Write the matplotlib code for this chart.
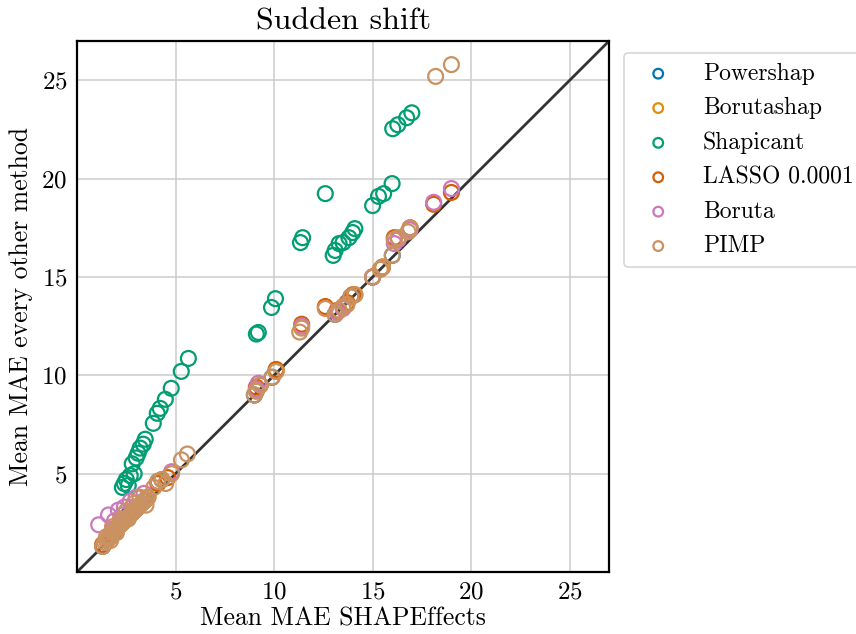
import matplotlib
matplotlib.use("Agg")
import matplotlib.pyplot as plt
import numpy as np

plt.rcParams['font.family'] = ['cmr10', 'DejaVu Serif']
plt.rcParams['mathtext.fontset'] = 'cm'
plt.rcParams['axes.unicode_minus'] = False
plt.rcParams['axes.formatter.use_mathtext'] = True

methods = ["Powershap", "Borutashap", "Shapicant", "LASSO 0.0001", "Boruta", "PIMP"]
colors = ["#0173b2", "#de8f05", "#029e73", "#d55e00", "#cc78bc", "#ca9161"]

# x: mean MAE SHAPEffects, y: mean MAE of the other method
powershap_x = [1.3, 1.7, 2.0, 2.3, 2.6, 3.0, 3.4, 4.1, 9.0, 9.9, 13.1, 13.9, 15.0, 16.0]
powershap_y = [1.3, 1.8, 2.2, 2.5, 2.9, 3.2, 3.6, 4.6, 9.0, 9.9, 13.1, 14.0, 15.0, 16.1]
borutashap_x = [1.5, 1.9, 2.2, 2.5, 2.8, 3.2, 3.6, 4.3, 9.1, 10.1, 13.3, 14.1, 15.4, 15.5]
borutashap_y = [1.6, 2.0, 2.4, 2.7, 3.0, 3.4, 3.8, 4.7, 9.2, 10.2, 13.3, 14.1, 15.4, 15.5]

shapicant_x = [2.3, 2.4, 2.5, 2.6, 2.7, 2.8, 2.9, 3.0, 3.1, 3.2, 3.36, 3.46, 3.87, 4.07,
               4.22, 4.48, 4.78, 5.29, 5.65, 9.1, 9.2, 9.87, 10.07, 11.34, 11.45, 12.6,
               13.0, 13.1, 13.3, 13.5, 13.8, 13.99, 14.1, 15.0, 15.3, 15.56, 15.99,
               16.02, 16.28, 16.73, 16.99]
shapicant_y = [4.3, 4.5, 4.7, 4.4, 4.9, 5.5, 5.0, 5.8, 6.04, 6.3, 6.5, 6.75, 7.56, 8.07,
               8.32, 8.78, 9.34, 10.2, 10.86, 12.1, 12.18, 13.45, 13.9, 16.75, 17.0, 19.24,
               16.1, 16.35, 16.7, 16.75, 17.0, 17.26, 17.46, 18.63, 19.1, 19.24, 19.75,
               22.54, 22.74, 23.1, 23.35]

lasso_x = [1.3, 1.6, 1.9, 2.2, 2.5, 2.8, 3.1, 3.4, 4.1, 4.6, 9.1, 9.3, 10.1, 11.4, 12.6,
           13.2, 13.7, 14.0, 15.0, 15.5, 16.1, 16.9, 18.1, 19.0]
lasso_y = [1.4, 1.7, 2.1, 2.4, 2.7, 3.0, 3.3, 3.6, 4.5, 4.8, 9.4, 9.5, 10.3, 12.6, 13.5,
           13.3, 13.7, 14.1, 15.0, 15.5, 17.0, 17.5, 18.7, 19.3]

boruta_x = [1.1, 1.6, 2.1, 2.4, 2.7, 3.0, 3.4, 1.9, 2.8, 2.3, 4.8, 9.1, 9.2, 11.4, 13.2,
            13.5, 15.0, 16.1, 16.3, 16.9, 18.1, 19.0]
boruta_y = [2.4, 2.9, 3.15, 3.3, 3.6, 3.8, 4.0, 2.6, 3.3, 2.9, 5.1, 9.3, 9.6, 12.5, 13.2,
            13.4, 15.0, 16.7, 16.9, 17.4, 18.8, 19.5]

pimp_x = [1.3, 1.4, 1.5, 1.6, 1.7, 1.8, 1.9, 2.0, 2.1, 2.2, 2.3, 2.4, 2.5, 2.6, 2.7, 2.8,
          2.9, 3.0, 3.1, 3.2, 3.3, 3.4, 3.5, 3.6, 1.5, 1.8, 2.2, 2.5, 2.9, 3.2, 1.7, 2.0,
          2.6, 3.5, 3.9, 4.1, 4.3, 4.5, 4.8, 5.3, 5.6, 9.0, 9.1, 9.3, 9.9, 10.1, 11.3, 11.4,
          12.6, 13.1, 13.3, 13.5, 13.7, 13.9, 14.1, 15.0, 15.4, 15.5, 16.0, 16.1, 16.3,
          16.8, 16.9, 18.2, 19.0]
pimp_y = [1.3, 1.5, 1.6, 1.7, 1.8, 2.0, 2.1, 2.2, 2.3, 2.4, 2.5, 2.6, 2.7, 2.8, 2.9, 3.0,
          3.1, 3.2, 3.3, 3.4, 3.5, 3.6, 3.7, 3.8, 1.8, 2.3, 2.7, 3.1, 3.5, 3.8, 1.6, 2.0,
          2.7, 3.4, 4.3, 4.6, 4.7, 4.5, 5.0, 5.7, 6.0, 9.0, 9.2, 9.5, 9.9, 10.2, 12.2, 12.4,
          13.4, 13.1, 13.3, 13.5, 13.6, 14.0, 14.1, 15.0, 15.4, 15.5, 16.1, 16.9, 17.0,
          17.3, 17.5, 25.2, 25.8]

series_x = [powershap_x, borutashap_x, shapicant_x, lasso_x, boruta_x, pimp_x]
series_y = [powershap_y, borutashap_y, shapicant_y, lasso_y, boruta_y, pimp_y]

lim = (0, 27)
ticks = [5, 10, 15, 20, 25]

fig = plt.figure(figsize=(8.56, 6.34), dpi=100)
ax = fig.add_axes([0.09, 0.0978, 0.6215, 0.8375])

for name, c, xs, ys in zip(methods, colors, series_x, series_y):
    ax.scatter(xs, ys, s=115, facecolors='none', edgecolors=c, linewidths=1.6,
               label=name, zorder=3)

ax.plot(lim, lim, color='#333333', lw=2, zorder=2)

ax.set_xlim(lim)
ax.set_ylim(lim)
ax.set_xticks(ticks)
ax.set_yticks(ticks)
ax.grid(True, color='#cccccc', lw=1.1, zorder=0)
ax.set_axisbelow(True)
ax.tick_params(length=0, labelsize=18, pad=7)
for sp in ax.spines.values():
    sp.set_color('black')
    sp.set_linewidth(1.6)

ax.set_title("Sudden shift", fontsize=23, pad=8)
ax.set_xlabel("Mean MAE SHAPEffects", fontsize=18.5, labelpad=2)
ax.set_ylabel("Mean MAE every other method", fontsize=18.5, labelpad=6)

leg = ax.legend(loc='upper left', bbox_to_anchor=(1.005, 1.0), fontsize=17,
                markerscale=0.65, handlelength=2.1, handletextpad=0.85,
                labelspacing=0.52, borderpad=0.42, frameon=True, fancybox=True)
leg.get_frame().set_edgecolor('#cccccc')
leg.get_frame().set_linewidth(1.2)

fig.savefig("out.png", dpi=100)
